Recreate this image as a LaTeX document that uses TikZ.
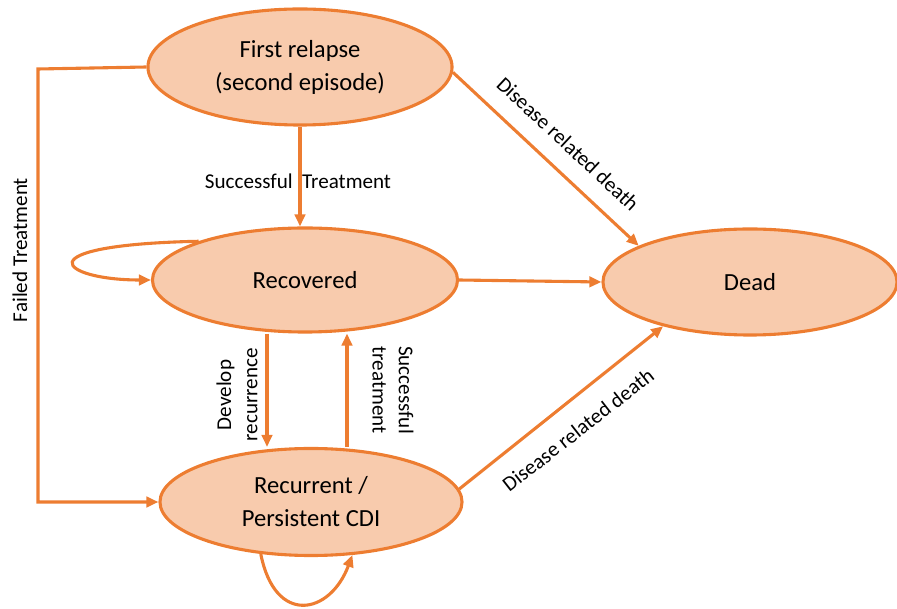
\documentclass[tikz,border=0pt]{standalone}
\usepackage{fontspec}
\setmainfont{Carlito}
\usepackage{tikz}
\usetikzlibrary{positioning,arrows.meta,calc,shapes.geometric}
\definecolor{cdiorange}{RGB}{237,125,49}
\definecolor{cdifill}{RGB}{248,203,173}
\tikzset{
  state/.style={ellipse, draw=cdiorange, fill=cdifill, line width=2.2pt,
                inner sep=0pt, align=center,
                font=\fontsize{17.5}{23.5}\selectfont},
  edge/.style={-{Triangle[length=3mm, width=2.6mm]}, line width=2.2pt, cdiorange},
  lbl/.style={font=\fontsize{15}{18.5}\selectfont, align=center, inner sep=1pt}
}
\begin{document}
\begin{tikzpicture}[x=0.025cm, y=-0.025cm]
\useasboundingbox (0,0) rectangle (897,609);
% states
\node (fr) [state, minimum width=7.6cm, minimum height=2.9cm] at (300,67) {First relapse\\(second episode)};
\node (rec) [state, minimum width=7.625cm, minimum height=2.6cm] at (305,280) {Recovered};
\node (dead) [state, minimum width=7.35cm, minimum height=2.65cm] at (750,282) {Dead};
\node (rcdi) [state, minimum width=7.55cm, minimum height=2.675cm] at (311,502) {Recurrent /\\Persistent CDI};
% transitions
\coordinate (ft) at (38,69);
\coordinate (dv) at ($(rec.south)+(-38,0)$);
\coordinate (st) at ($(rcdi.north)+(36,0)$);
\draw[edge] (fr.west) -- (ft) |- (rcdi.west);
\draw[edge] (fr.south) -- (fr.south |- rec.north);
\draw[edge] (fr.358) -- (dead.162);
\draw[edge] (rec.east) -- (dead.west);
\draw[edge] (rec.160) .. controls (20,245) and (60,280) .. (rec.west);
\draw[edge] (dv) -- (dv |- rcdi.north);
\draw[edge] (st) -- (st |- rec.south);
\draw[edge] (rcdi.5) -- (dead.207);
\draw[edge] (rcdi.226) .. controls (275,626) and (330,615) .. (rcdi.308);
% labels
\node (lft) [lbl, rotate=90] at (20,250) {Failed Treatment};
\node (lst) [lbl] at (298,181) {Successful\ \ Treatment};
\node (ldr1) [lbl, rotate=-43] at (568,144) {Disease related death};
\node (ldev) [lbl, rotate=90] at (237,395) {Develop\\recurrence};
\node (lsuc) [lbl, rotate=-90] at (393,390) {Successful\\treatment};
\node (ldr2) [lbl, rotate=38] at (578,430) {Disease related death};
\end{tikzpicture}
\end{document}
